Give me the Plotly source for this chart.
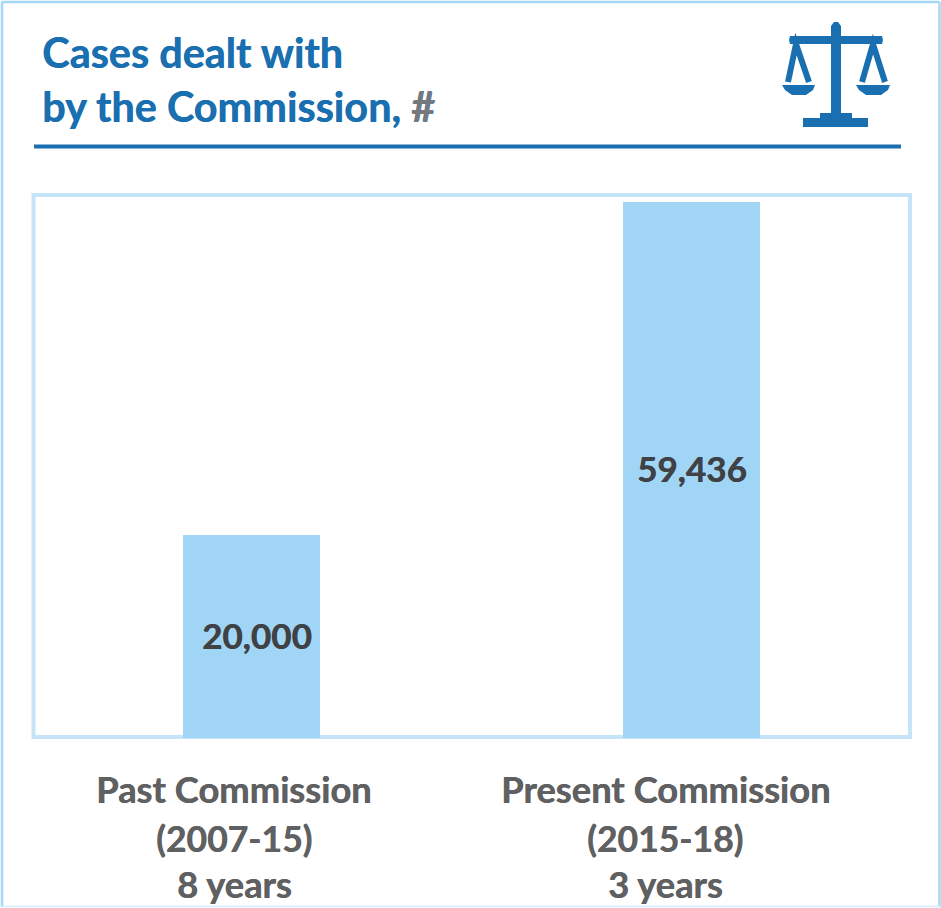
import plotly.graph_objects as go

W, H = 941, 908
L, R, T, B = 33, 910, 196, 738

categories = ["Past Commission", "Present Commission"]
periods = ["(2007-15)", "(2015-18)"]
durations = ["8 years", "3 years"]
value_labels = ["20,000", "59,436"]
# Heights as drawn: the first bar is taller in the picture than its label's 20,000 implies
bar_heights = [22500, 59436]

BLUE = "#1a6fb0"
PALE = "#a0d5f5"
GREY = "#5f6062"
FONT = "Lato"

def px(x):
    return (x - L) / (R - L)

def py(y):
    return (B - y) / (B - T)

def path(points, close=True):
    d = "M" + " L".join(f"{px(x):.5f},{py(y):.5f}" for x, y in points)
    return d + (" Z" if close else "")

def font(size, color):
    return dict(family=FONT, size=size, color=color, weight="bold", shadow=f"0.5px 0 0 {color}")

fig = go.Figure(go.Bar(
    x=[0, 1], y=bar_heights, width=0.311,
    marker=dict(color=PALE, line=dict(width=0)),
    hoverinfo="skip", showlegend=False,
))

ann = []
def text(x, y, s, size, color):
    ann.append(dict(x=px(x), y=py(y), xref="paper", yref="paper", text=s, showarrow=False,
                    xanchor="center", yanchor="middle", font=font(size, color)))

def left_text(x, y, s, size, color):
    ann.append(dict(x=px(x), y=py(y), xref="paper", yref="paper", text=s, showarrow=False,
                    xanchor="left", yanchor="middle", font=font(size, color)))

left_text(40, 52, "Cases dealt with", 41.4, BLUE)
left_text(40, 106, 'by the Commission, <span style="color:#77787b">#</span>', 41.4, BLUE)

for i, cx in enumerate([234, 665]):
    text(cx, 789, categories[i], 36.3, GREY)
    text(cx, 838, periods[i], 35.5, GREY)
    text(cx, 884, durations[i], 36.3, GREY)

for i, shift in enumerate([5, 0]):
    ann.append(dict(x=i, y=bar_heights[i] / 2 + 180, xref="x", yref="y", text=value_labels[i],
                    showarrow=False, xshift=shift, font=font(35, "#404145")))

def solid(points):
    return dict(type="path", xref="paper", yref="paper", path=path(points),
                fillcolor=BLUE, line=dict(width=0), layer="above")

def stroke(points, width):
    return dict(type="path", xref="paper", yref="paper", path=path(points, close=False),
                line=dict(color=BLUE, width=width), layer="above")

def edge(x0, y0, x1, y1, color, width):
    return dict(type="line", xref="paper", yref="paper", x0=px(x0), x1=px(x1), y0=py(y0), y1=py(y1),
                line=dict(color=color, width=width), layer="below")

shapes = [
    # outer frame
    edge(1.5, 2, 939.5, 2, "#a5d8f6", 2.5),
    edge(2, 2, 2, 907, "#a5d8f6", 2.5),
    edge(939.5, 2, 939.5, 907, "#a5d8f6", 2.5),
    edge(2, 906.5, 939.5, 906.5, "#dceffb", 2),
    # plot border, under the bars
    dict(type="rect", xref="paper", yref="paper", x0=px(33.5), x1=px(910), y0=py(737), y1=py(195),
         line=dict(color="#c6e4f8", width=4), fillcolor="white", layer="below"),
    # title rule
    dict(type="line", xref="paper", yref="paper", x0=px(34), x1=px(901), y0=py(146.5), y1=py(146.5),
         line=dict(color=BLUE, width=4)),
    # scales icon
    solid([(831, 26), (834, 22), (838, 22), (841, 26), (841, 114), (831, 114)]),
    solid([(790, 36), (882, 36), (883, 40), (882, 44), (790, 44), (789, 40)]),
    solid([(820, 113), (852, 113), (852, 119), (820, 119)]),
    solid([(803, 118), (868, 118), (868, 127), (803, 127)]),
    stroke([(788, 82), (796, 44), (809, 82)], 6),
    stroke([(862, 82), (873, 44), (885, 82)], 6),
    solid([(782, 85), (815, 85), (813, 90), (806, 95), (792, 95), (785, 90)]),
    solid([(856, 85), (890, 85), (888, 90), (881, 95), (866, 95), (859, 90)]),
]

fig.update_layout(
    width=W, height=H,
    margin=dict(l=L, r=W - R, t=T, b=H - B, pad=0),
    paper_bgcolor="white", plot_bgcolor="rgba(0,0,0,0)",
    bargap=0, annotations=ann, shapes=shapes,
    xaxis=dict(range=[-0.4966, 1.4966], showticklabels=False, ticks="", showgrid=False, zeroline=False,
               showline=False),
    yaxis=dict(range=[0, 60101], showticklabels=False, ticks="", showgrid=False, zeroline=False,
               showline=False),
)

fig.write_html("out.html", config=dict(displayModeBar=False),
               post_script="document.body.style.margin='0';document.body.style.overflow='hidden';")
